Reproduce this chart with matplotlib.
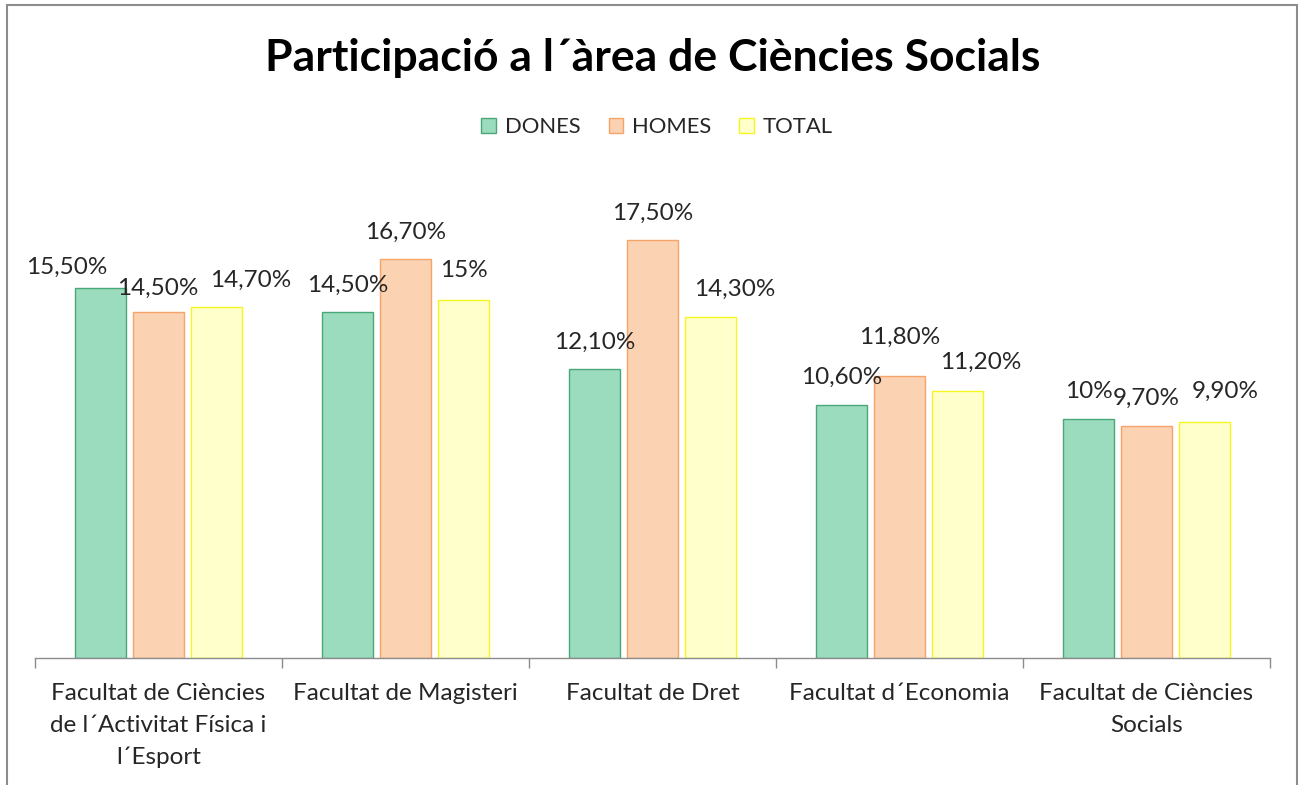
import matplotlib.pyplot as plt
from matplotlib.patches import Patch, Rectangle
import numpy as np

# data
facultats = [
    "Facultat de Ciències\nde l´Activitat Física i\nl´Esport",
    "Facultat de Magisteri",
    "Facultat de Dret",
    "Facultat d´Economia",
    "Facultat de Ciències\nSocials",
]
series_names = ["DONES", "HOMES", "TOTAL"]
dones = [15.5, 14.5, 12.1, 10.6, 10.0]
homes = [14.5, 16.7, 17.5, 11.8, 9.7]
total = [14.7, 15.0, 14.3, 11.2, 9.9]

# label nudges (pixels from bar top centre), as excel placed them
dones_off = [(-34, 21), (0, 27), (0, 27), (0, 28), (0, 28)]
homes_off = [(-1, 24), (0, 27), (0, 27), (0, 39), (0, 28)]
total_off = [(34, 27), (0, 29), (24, 27), (23, 28), (21, 30)]

faces = ["#9bdcbf", "#fbd2b2", "#ffffcc"]
edges = ["#4aa878", "#f5a46a", "#f5f520"]

plt.rcParams['font.family'] = ['Lato', 'DejaVu Sans']

W, H = 1307, 785
fig = plt.figure(figsize=(W / 100, H / 100), dpi=100)
ax = fig.add_axes([35 / W, (H - 658) / H, (1270 - 35) / W, (658 - 180.6) / H])


def fmt(v):
    if float(v).is_integer():
        return f"{int(v)}%"
    return f"{v:.2f}".replace(".", ",") + "%"


x = np.arange(len(facultats))
bw = 0.21
step = 0.235
for i, (vals, offs) in enumerate(zip([dones, homes, total], [dones_off, homes_off, total_off])):
    pos = x + (i - 1) * step
    ax.bar(pos, vals, width=bw, color=faces[i], edgecolor=edges[i], linewidth=1.0)
    for px, v, (dx, dy) in zip(pos, vals, offs):
        ax.annotate(fmt(v), xy=(px, v), xytext=(dx, dy), textcoords="offset pixels",
                    ha="center", va="center", fontsize=17.5, color="#262626")

ax.set_xlim(-0.5, len(facultats) - 0.5)
ax.set_ylim(0, 20)
ax.set_yticks([])
for s in ["top", "right", "left"]:
    ax.spines[s].set_visible(False)
ax.spines["bottom"].set_color("#8c8c8c")
ax.spines["bottom"].set_linewidth(1.0)

ax.set_xticks(np.arange(len(facultats) + 1) - 0.5)
ax.set_xticklabels([])
ax.tick_params(axis="x", which="major", length=7, color="#8c8c8c", width=1.0)
ax.set_xticks(x, minor=True)
ax.set_xticklabels(facultats, minor=True, fontsize=17.5, color="#262626", linespacing=1.63)
ax.tick_params(axis="x", which="minor", length=0, pad=18)

fig.text(653 / W, 1 - 58 / H, "Participació a l´àrea de Ciències Socials",
         ha="center", va="center", fontsize=32, fontweight="bold", color="black")

handles = [Patch(facecolor=faces[i], edgecolor=edges[i], linewidth=1.0) for i in range(3)]
fig.legend(handles, series_names, loc="center", bbox_to_anchor=(657 / W, 1 - 127 / H),
           ncol=3, frameon=False, fontsize=15.8, handlelength=0.65, handleheight=0.65,
           handletextpad=0.4, columnspacing=1.3, labelcolor="#262626")

fig.patches.append(Rectangle((7 / W, -0.05), (1297 - 7) / W, 1.05 - 5 / H,
                             transform=fig.transFigure, fill=False,
                             edgecolor="#8c8c8c", linewidth=1.5))

fig.savefig("out.png", dpi=100)
